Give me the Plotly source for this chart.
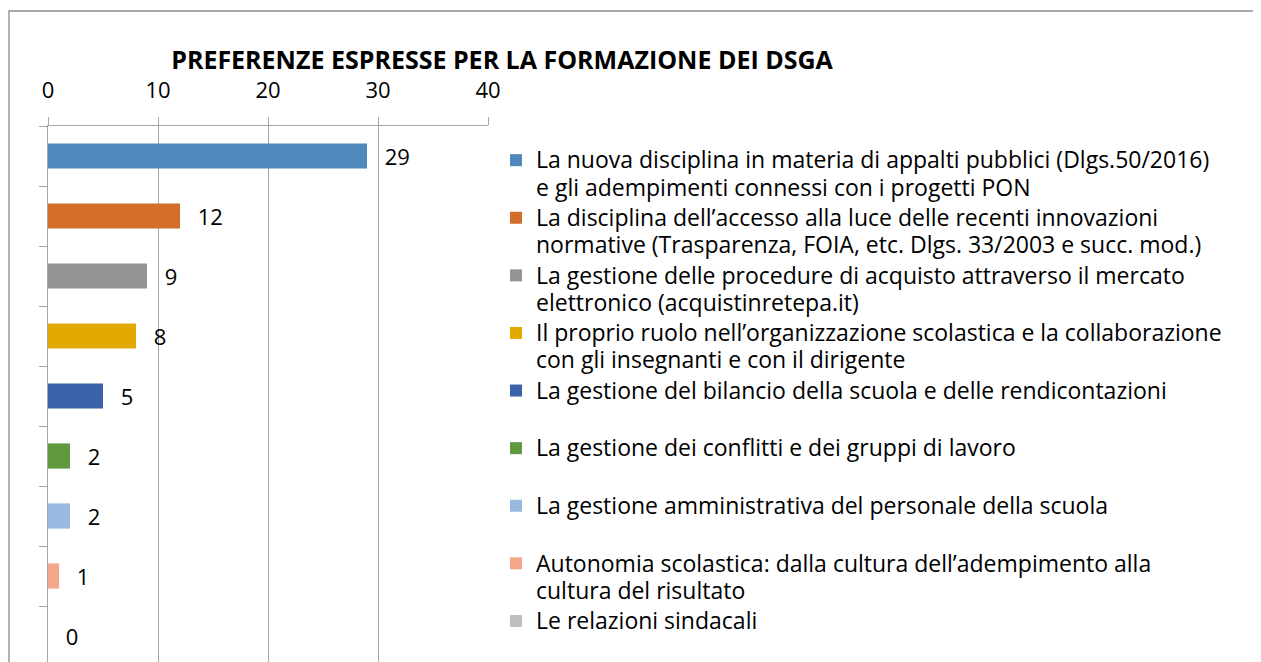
import plotly.graph_objects as go

title = "PREFERENZE ESPRESSE PER LA FORMAZIONE DEI DSGA"
categories = [
    "La nuova disciplina in materia di appalti pubblici (Dlgs.50/2016)<br>e gli adempimenti connessi con i progetti PON",
    "La disciplina dell\u2019accesso alla luce delle recenti innovazioni<br>normative (Trasparenza, FOIA, etc. Dlgs. 33/2003 e succ. mod.)",
    "La gestione delle procedure di acquisto attraverso il mercato<br>elettronico (acquistinretepa.it)",
    "Il proprio ruolo nell\u2019organizzazione scolastica e la collaborazione<br>con gli insegnanti e con il dirigente",
    "La gestione del bilancio della scuola e delle rendicontazioni<br> ",
    "La gestione dei conflitti e dei gruppi di lavoro<br> ",
    "La gestione amministrativa del personale della scuola<br> ",
    "Autonomia scolastica: dalla cultura dell\u2019adempimento alla<br>cultura del risultato",
    "Le relazioni sindacali<br> ",
]
values = [29, 12, 9, 8, 5, 2, 2, 1, 0]
colors = ["#4F88BC", "#D36D2A", "#949494", "#E2AA00", "#3C62AA",
          "#5F9A3E", "#98BAE0", "#F2A78A", "#BEBEBE"]
x_ticks = [0, 10, 20, 30, 40]

FONT = "Open Sans"
FS = 22
OFF = 8  # page body margin offset


def legend_label(s):
    return "<br>".join(f'<span style="font-size:23px">{part}</span>' for part in s.split("<br>"))


fig = go.Figure()
for i, (cat, val, col) in enumerate(zip(categories, values, colors)):
    fig.add_trace(go.Bar(
        y=[cat], x=[val], orientation="h", name=legend_label(cat),
        marker=dict(color=col, line=dict(width=0)),
        width=0.42,
        text=[val], texttemplate="\u2002\u2009%{x}", textposition="outside",
        constraintext="none",
        textfont=dict(family=FONT, size=FS, color="black"),
        cliponaxis=False, legendgroup=f"g{i}",
    ))

fig.update_layout(
    width=1261, height=662,
    margin=dict(l=48 - OFF, r=1261 - 488 + OFF, t=126 - OFF, b=OFF, autoexpand=False),
    paper_bgcolor="white", plot_bgcolor="white",
    barmode="overlay",
    font=dict(family=FONT, size=FS, color="black"),
    title=dict(text=f"<b>{title}</b>", x=(502 - OFF)/1261, xanchor="center", xref="container",
               y=1 - (60 - OFF)/662, yanchor="middle", yref="container",
               font=dict(family=FONT, size=25, color="black")),
    showlegend=True,
    legend=dict(x=(496-48)/440, xanchor="left", y=1 - 14/536, yanchor="top",
                valign="top", tracegroupgap=0, traceorder="normal",
                maxheight=700,
                font=dict(family=FONT, size=21, color="black"),
                bgcolor="rgba(0,0,0,0)"),
    xaxis=dict(side="top", range=[0, 40], tickvals=x_ticks, showgrid=True,
               gridcolor="#A6A6A6", gridwidth=1, zeroline=False, automargin=False,
               showline=True, linecolor="#A6A6A6", linewidth=1,
               ticks="outside", ticklen=8, tickcolor="#A6A6A6",
               ticklabelstandoff=10,
               tickfont=dict(family=FONT, size=FS, color="black")),
    yaxis=dict(type="category", categoryorder="array", categoryarray=categories,
               range=[-0.5 + 536/60, -0.5], showticklabels=False, showgrid=False,
               zeroline=False, showline=True, linecolor="#A6A6A6", linewidth=1,
               automargin=False,
               ticks="outside", ticklen=8, tickcolor="#A6A6A6", tickson="boundaries"),
    shapes=[dict(type="rect", xref="paper", yref="paper",
                 x0=(9-48)/440, x1=2.9, y0=-0.1, y1=1 + (126-11)/536,
                 line=dict(color="#8C8C8C", width=1.3), fillcolor="rgba(0,0,0,0)",
                 layer="below")],
)

fig.write_html("out.html")
